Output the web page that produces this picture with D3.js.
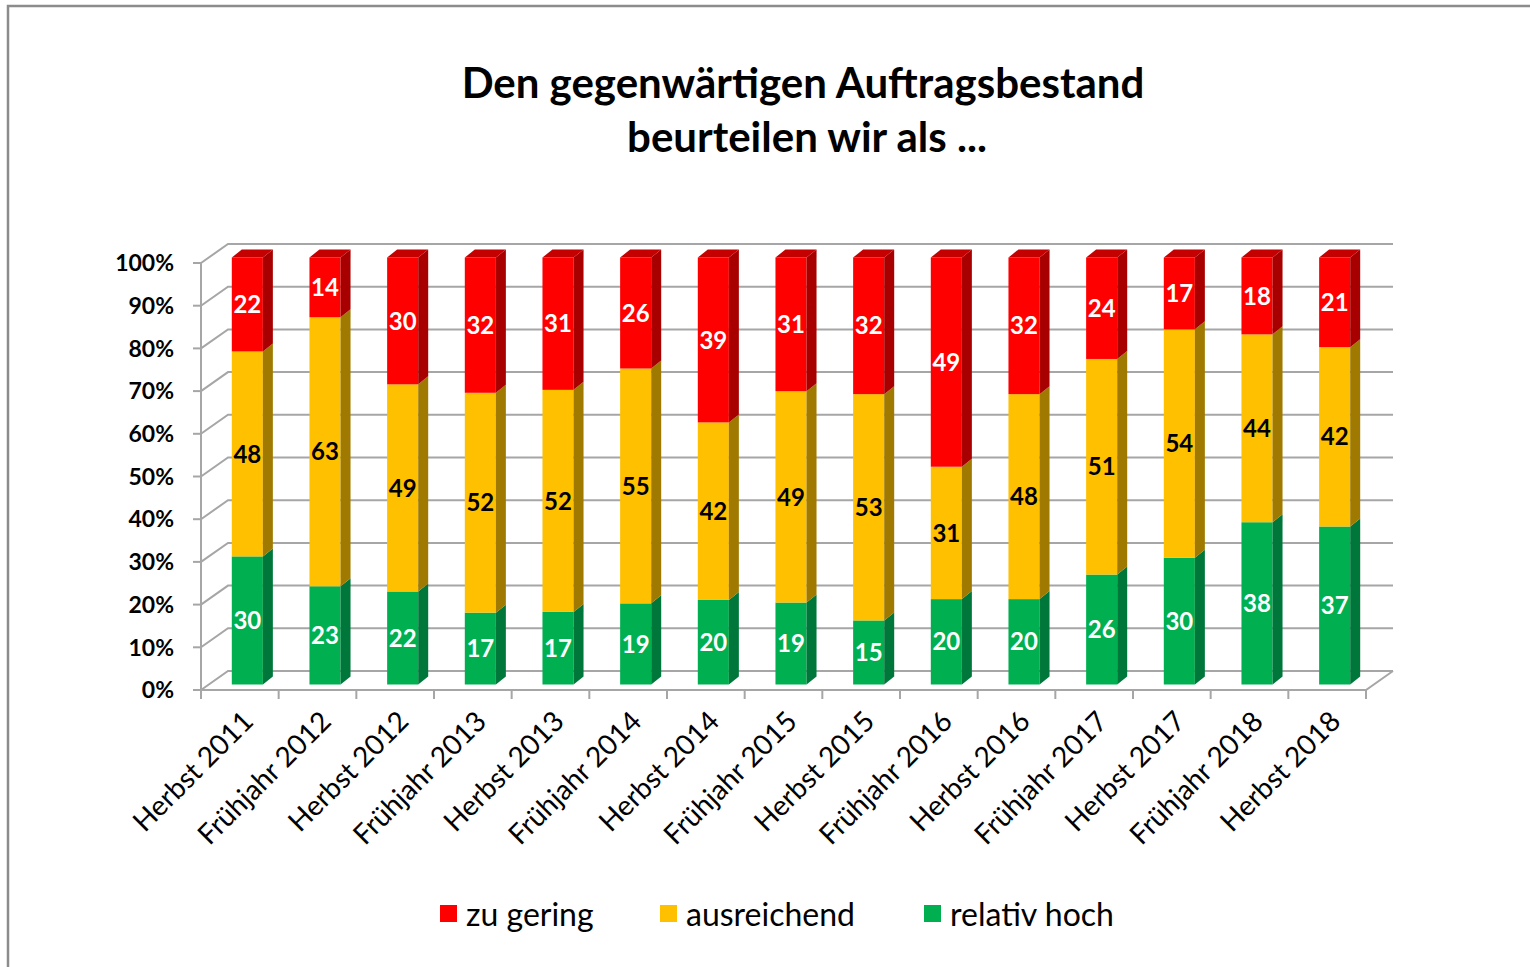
<!DOCTYPE html>
<html>
<head>
<meta charset="utf-8">
<script src="https://cdn.jsdelivr.net/npm/d3@7"></script>
<style>
  body { margin: 0; background: #fff; }
  text { font-family: Lato, "Open Sans", sans-serif; }
</style>
</head>
<body>
<script>
var w = 1530;
var h = 967;

// data
var categories = ["Herbst 2011", "Frühjahr 2012", "Herbst 2012", "Frühjahr 2013", "Herbst 2013",
  "Frühjahr 2014", "Herbst 2014", "Frühjahr 2015", "Herbst 2015", "Frühjahr 2016",
  "Herbst 2016", "Frühjahr 2017", "Herbst 2017", "Frühjahr 2018", "Herbst 2018"];
var relativHoch = [30, 23, 22, 17, 17, 19, 20, 19, 15, 20, 20, 26, 30, 38, 37];
var ausreichend = [48, 63, 49, 52, 52, 55, 42, 49, 53, 31, 48, 51, 54, 44, 42];
var zuGering    = [22, 14, 30, 32, 31, 26, 39, 31, 32, 49, 32, 24, 17, 18, 21];
var seriesNames = ["relativ hoch", "ausreichend", "zu gering"];
var yTicks = [0, 0.1, 0.2, 0.3, 0.4, 0.5, 0.6, 0.7, 0.8, 0.9, 1];

var colors = {
  "zu gering":    { front: "#ff0000", side: "#a80000", top: "#c40000", label: "#fff" },
  "ausreichend":  { front: "#ffc000", side: "#a07a00", top: "#d9a400", label: "#000" },
  "relativ hoch": { front: "#00b050", side: "#00773a", top: "#009444", label: "#fff" }
};

var rows = categories.map(function(c, i) {
  return { cat: c, "relativ hoch": relativHoch[i], "ausreichend": ausreichend[i], "zu gering": zuGering[i] };
});
var stacked = d3.stack().keys(seriesNames).offset(d3.stackOffsetExpand)(rows);

var svg = d3.select("body").append("svg")
  .attr("width", w)
  .attr("height", h);

// outer frame
svg.append("rect")
  .attr("x", 8).attr("y", 6)
  .attr("width", w + 20).attr("height", h + 20)
  .attr("fill", "none").attr("stroke", "#8c8c8c").attr("stroke-width", 2.5);

// title
var title = svg.append("text")
  .attr("text-anchor", "middle")
  .attr("font-weight", "bold")
  .attr("font-size", 42);
title.append("tspan").attr("x", 803).attr("y", 98).text("Den gegenwärtigen Auftragsbestand");
title.append("tspan").attr("x", 807).attr("y", 152).text("beurteilen wir als ...");

// 3d geometry
var x = d3.scaleBand().domain(categories).range([201, 1366]).paddingInner(0.6).paddingOuter(0.3);
var y = d3.scaleLinear().domain([0, 1]).range([690, 263]);
var back = { dx: 27, dy: -19 };
var barOff = { dx: 7.5, dy: -5.5 };
var depth = { dx: 10, dy: -8 };
var gridColor = "#a6a6a6";

var grid = svg.append("g").attr("stroke", gridColor).attr("stroke-width", 2).attr("fill", "none");
yTicks.forEach(function(t) {
  var yf = y(t);
  grid.append("polyline")
    .attr("points", [[201, yf], [201 + back.dx, yf + back.dy], [1366 + back.dx, yf + back.dy]].join(" "));
});
// floor front edge + right edge
grid.append("polyline")
  .attr("points", [[201, y(0)], [1366, y(0)], [1366 + back.dx, y(0) + back.dy]].join(" "));
// left axis
grid.append("line").attr("x1", 201).attr("x2", 201).attr("y1", y(1)).attr("y2", y(0));
yTicks.forEach(function(t) {
  grid.append("line").attr("x1", 193).attr("x2", 201).attr("y1", y(t)).attr("y2", y(t));
});
// category ticks
d3.range(categories.length + 1).forEach(function(k) {
  var xt = 201 + k * x.step();
  grid.append("line").attr("x1", xt).attr("x2", xt).attr("y1", y(0)).attr("y2", y(0) + 9);
});

// y labels
svg.append("g").selectAll("text")
  .data(yTicks)
  .enter().append("text")
  .attr("x", 174)
  .attr("y", function(d) { return y(d); })
  .attr("dy", "0.36em")
  .attr("text-anchor", "end")
  .attr("font-weight", "bold")
  .attr("font-size", 23)
  .text(function(d) { return Math.round(d * 100) + "%"; });

// bars
var bw = x.bandwidth();
var bars = svg.append("g");
stacked.forEach(function(layer, li) {
  var key = layer.key;
  var col = colors[key];
  layer.forEach(function(d, i) {
    var x0 = x(d.data.cat) + barOff.dx;
    var yb = y(d[0]) + barOff.dy;
    var yt = y(d[1]) + barOff.dy;
    bars.append("rect")
      .attr("x", x0).attr("y", yt)
      .attr("width", bw).attr("height", yb - yt)
      .attr("fill", col.front);
    bars.append("polygon")
      .attr("points", [[x0 + bw, yb], [x0 + bw + depth.dx, yb + depth.dy],
        [x0 + bw + depth.dx, yt + depth.dy], [x0 + bw, yt]].join(" "))
      .attr("fill", col.side);
    if (li === stacked.length - 1) {
      bars.append("polygon")
        .attr("points", [[x0, yt], [x0 + depth.dx, yt + depth.dy],
          [x0 + bw + depth.dx, yt + depth.dy], [x0 + bw, yt]].join(" "))
        .attr("fill", col.top);
    }
    bars.append("text")
      .attr("x", x0 + bw / 2)
      .attr("y", (yb + yt) / 2)
      .attr("dy", "0.36em")
      .attr("text-anchor", "middle")
      .attr("font-weight", "bold")
      .attr("font-size", 24)
      .attr("fill", col.label)
      .text(d.data[key]);
  });
});

// x labels
svg.append("g").selectAll("text")
  .data(categories)
  .enter().append("text")
  .attr("transform", function(d) {
    return "translate(" + (x(d) + bw / 2 + 8) + "," + 716 + ") rotate(-45)";
  })
  .attr("text-anchor", "end")
  .attr("dy", "0.36em")
  .attr("font-size", 28)
  .text(function(d) { return d; });

// legend
var legendItems = [
  { name: "zu gering", x: 440 },
  { name: "ausreichend", x: 660 },
  { name: "relativ hoch", x: 924 }
];
var lg = svg.append("g").selectAll("g")
  .data(legendItems)
  .enter().append("g")
  .attr("transform", function(d) { return "translate(" + d.x + ",905)"; });
lg.append("rect").attr("width", 17).attr("height", 17)
  .attr("fill", function(d) { return colors[d.name].front; });
lg.append("text").attr("x", 26).attr("y", 9).attr("dy", "0.36em")
  .attr("font-size", 32)
  .text(function(d) { return d.name; });
</script>
</body>
</html>
